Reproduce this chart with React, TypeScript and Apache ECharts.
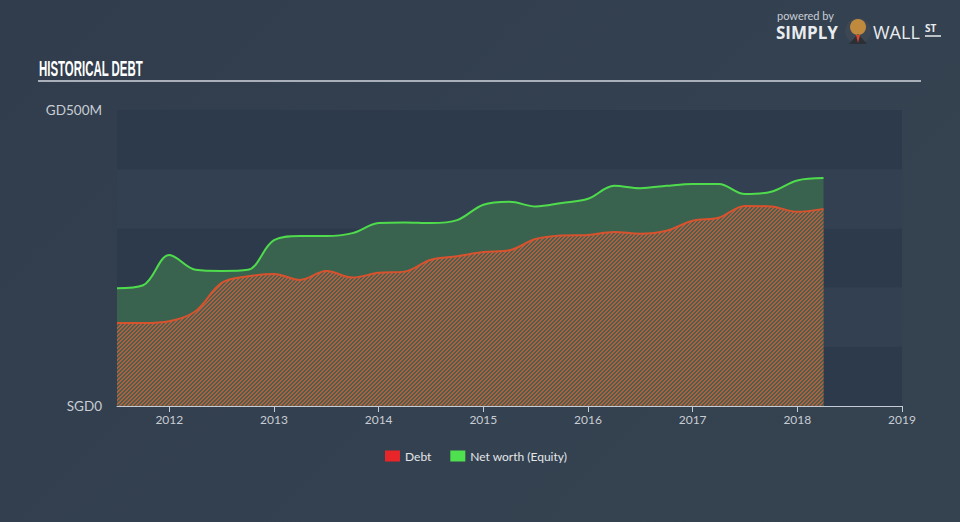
import React, { useEffect, useRef } from 'react';
import * as echarts from 'echarts';

const quarters = [
  2011.5, 2011.75, 2012.0, 2012.25, 2012.5, 2012.75, 2013.0, 2013.25, 2013.5, 2013.75,
  2014.0, 2014.25, 2014.5, 2014.75, 2015.0, 2015.25, 2015.5, 2015.75, 2016.0, 2016.25,
  2016.5, 2016.75, 2017.0, 2017.25, 2017.5, 2017.75, 2018.0, 2018.25,
];
const equity = [
  199, 204, 255, 230, 228, 230, 280, 287, 287, 292,
  309, 310, 309, 314, 340, 345, 337, 343, 350, 372,
  368, 372, 375, 375, 358, 362, 381, 385,
];
const debt = [
  140, 140, 143, 160, 208, 219, 223, 213, 228, 217,
  225, 227, 247, 253, 260, 263, 282, 288, 289, 294,
  291, 296, 313, 318, 338, 337, 328, 333,
];
const yearTicks = [2012, 2013, 2014, 2015, 2016, 2017, 2018, 2019];
const seriesNames = ['Debt', 'Net worth (Equity)'];

function makeHatch(): HTMLCanvasElement {
  const c = document.createElement('canvas');
  c.width = 4;
  c.height = 4;
  const ctx = c.getContext('2d')!;
  ctx.fillStyle = 'rgb(76,94,78)';
  ctx.fillRect(0, 0, 4, 4);
  ctx.fillStyle = 'rgb(176,96,62)';
  for (let x = 0; x < 4; x++) {
    for (let y = 0; y < 4; y++) {
      if ((x + y) % 4 < 2) ctx.fillRect(x, y, 1, 1);
    }
  }
  return c;
}

export default function App() {
  const ref = useRef<HTMLDivElement>(null);
  useEffect(() => {
    if (!ref.current) return;
    const chart = echarts.init(ref.current, null, { renderer: 'svg' });
    const eqData = quarters.map((q, i) => [q, equity[i]]);
    const debtData = quarters.map((q, i) => [q, debt[i]]);
    chart.setOption({
      animation: false,
      backgroundColor: 'transparent',
      grid: { left: 117, right: 58, top: 110, bottom: 116, containLabel: false },
      legend: {
        left: 380,
        top: 445,
        itemWidth: 15,
        itemHeight: 11,
        itemGap: 19,
        icon: 'rect',
        textStyle: { color: '#e3e6ea', fontSize: 12, fontFamily: 'Lato, sans-serif' },
        data: [
          { name: seriesNames[0], itemStyle: { color: '#e8262a' } },
          { name: seriesNames[1], itemStyle: { color: '#4fe04f' } },
        ],
      },
      xAxis: {
        type: 'value',
        min: 2011.5,
        max: 2019,
        splitLine: { show: false },
        axisLine: { show: true, lineStyle: { color: '#c5ccd6', width: 1 } },
        axisTick: { show: true, length: 6, lineStyle: { color: '#c5ccd6' }, customValues: yearTicks },
        axisLabel: {
          color: '#c8cdd4',
          fontSize: 12,
          fontFamily: 'Lato, sans-serif',
          margin: 7,
          customValues: yearTicks,
          formatter: (v: number) => String(Math.round(v)),
        },
      },
      yAxis: {
        type: 'value',
        min: 0,
        max: 500,
        interval: 100,
        axisLine: { show: false },
        axisTick: { show: false },
        splitLine: { show: false },
        splitArea: {
          show: true,
          areaStyle: { color: ['#2d3a4b', '#334052', '#2d3a4b', '#334052', '#2d3a4b'] },
        },
        axisLabel: {
          color: '#c8cdd4',
          fontSize: 13.5,
          fontFamily: 'Lato, sans-serif',
          margin: 15,
          formatter: (v: number) => (v === 0 ? 'SGD0' : v === 500 ? 'GD500M' : ''),
        },
      },
      series: [
        {
          name: seriesNames[1],
          type: 'line',
          data: eqData,
          smooth: 0.35,
          showSymbol: false,
          symbol: 'none',
          lineStyle: { color: '#4fdc4c', width: 2 },
          itemStyle: { color: '#4fe04f' },
          areaStyle: { color: '#3a634f', opacity: 1 },
          z: 2,
        },
        {
          name: seriesNames[0],
          type: 'line',
          data: debtData,
          smooth: 0.35,
          showSymbol: false,
          symbol: 'none',
          lineStyle: { color: '#d8522e', width: 2 },
          itemStyle: { color: '#e8262a' },
          areaStyle: { color: { image: makeHatch(), repeat: 'repeat' }, opacity: 1 },
          z: 3,
        },
      ],
      graphic: [
        {
          type: 'text',
          x: 39,
          y: 57,
          scaleX: 0.52,
          style: {
            text: 'HISTORICAL DEBT',
            fill: '#ffffff',
            font: 'bold 22px "Liberation Sans", sans-serif',
          },
        },
        {
          type: 'line',
          shape: { x1: 38, y1: 81, x2: 921, y2: 81 },
          style: { stroke: '#a9b0ba', lineWidth: 2 },
        },
        {
          type: 'text',
          left: 777,
          top: 10,
          style: { text: 'powered by', fill: '#c9ced5', font: '11px Lato, sans-serif' },
        },
        {
          type: 'text',
          left: 776,
          top: 24,
          style: { text: 'SIMPLY', fill: '#e9ecef', font: 'bold 17px "Open Sans", sans-serif' },
        },
        {
          type: 'circle',
          shape: { cx: 858, cy: 31, r: 13 },
          style: { fill: '#3d4754' },
        },
        {
          type: 'circle',
          shape: { cx: 858, cy: 27, r: 8 },
          style: { fill: '#c08a3e' },
        },
        {
          type: 'polygon',
          shape: { points: [[849, 44], [858, 34], [867, 44]] },
          style: { fill: '#2b2f36' },
        },
        {
          type: 'polygon',
          shape: { points: [[856, 35], [860, 35], [858, 43]] },
          style: { fill: '#e0442a' },
        },
        {
          type: 'text',
          left: 873,
          top: 23,
          style: { text: 'WALL', fill: '#e9ecef', font: '18px "Open Sans", sans-serif' },
        },
        {
          type: 'text',
          left: 925,
          top: 23,
          style: { text: 'ST', fill: '#e9ecef', font: 'bold 10px "Open Sans", sans-serif' },
        },
        {
          type: 'line',
          shape: { x1: 925, y1: 36, x2: 941, y2: 36 },
          style: { stroke: '#e9ecef', lineWidth: 1.5 },
        },
      ],
    });
    return () => chart.dispose();
  }, []);
  return (
    <div
      style={{
        position: 'fixed',
        left: 0,
        top: 0,
        width: 960,
        height: 522,
        background: 'linear-gradient(135deg, #313d4d 0%, #344150 60%, #35424f 100%)',
      }}
    >
      <div ref={ref} style={{ width: 960, height: 522 }} />
    </div>
  );
}
